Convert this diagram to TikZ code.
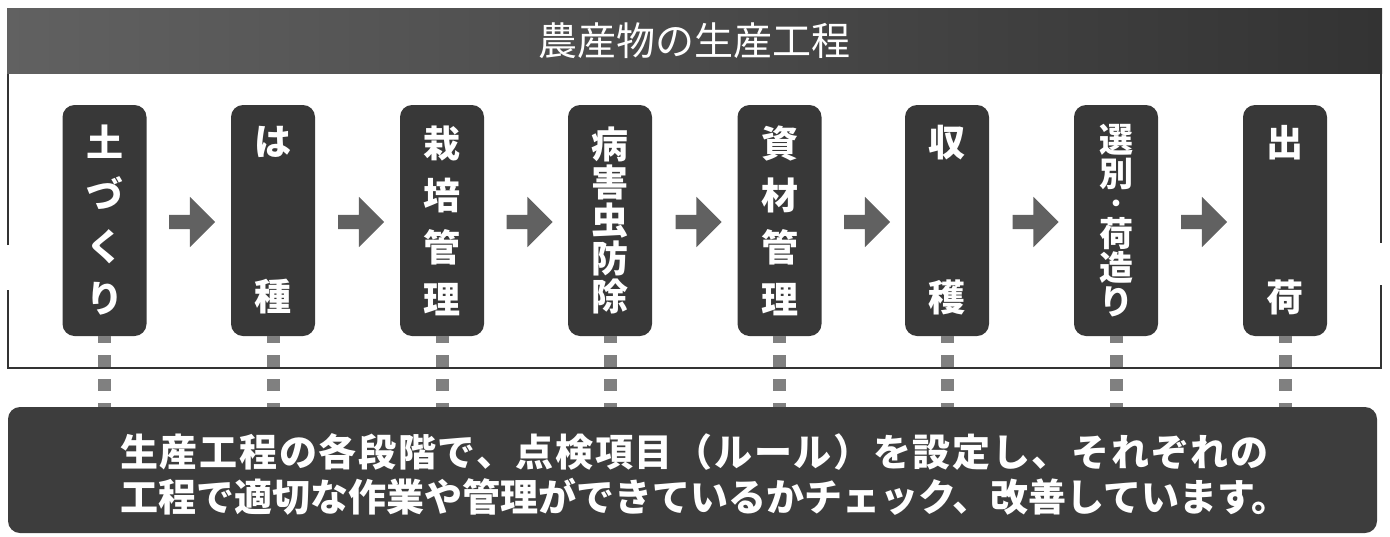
\documentclass[tikz,border=0pt]{standalone}
\usepackage{fontspec}
\newfontfamily\jpfont{Noto Sans CJK JP}
\usetikzlibrary{shapes.arrows}

\tikzset{
  banner/.style={left color=black!62, middle color=black!90, right color=black!80, minimum width=1375pt, minimum height=65pt, inner sep=0pt, text=white, font=\jpfont\fontsize{39}{40}\selectfont},
  stepbox/.style={fill=black!78, rounded corners=12pt, minimum width=84pt, minimum height=231pt, inner sep=0pt, text=white, align=center, font=\jpfont\bfseries\fontsize{37}{52}\selectfont},
  flowarrow/.style={single arrow, fill=black!62, inner sep=7pt, minimum height=46pt, single arrow head extend=18pt, single arrow head indent=0pt},
  tickline/.style={draw=black!50, line width=13pt, dash pattern=on 12pt off 12pt, dash phase=5pt},
  notebox/.style={fill=black!76, rounded corners=12pt, minimum width=1369pt, minimum height=126pt, inner sep=0pt},
  notetext/.style={text=white, align=left, inner sep=0pt, font=\jpfont\bfseries\fontsize{38}{45}\selectfont},
}

\begin{document}
\begin{tikzpicture}[x=1pt, y=-1pt]
            \useasboundingbox (0, 0) rectangle (1390, 536);

            \coordinate (TL) at (8, 73);
            \coordinate (TR) at (1381, 73);
            \coordinate (BL) at (8, 368);
            \coordinate (BR) at (1381, 368);

            % frame round the steps
            \draw[line width=1.2pt, black!80] (8, 245) -- (TL) -- (TR) -- (1381, 243);
            \draw[line width=1.2pt, black!80] (8, 290) -- (BL) -- (BR) -- (1381, 285);

            \node[banner] (title) at (694.5, 40.5) {農産物の生産工程};

            \node[stepbox] (s1) at (104.5, 220.5) {土\\づ\\く\\り};
            \node[stepbox] (s2) at (273, 220.5) {は\\[103pt]種};
            \node[stepbox] (s3) at (442, 220.5) {栽\\培\\管\\理};
            \node[stepbox, font=\jpfont\bfseries\fontsize{37}{38}\selectfont] (s4) at (610, 220.5) {病\\害\\虫\\防\\除};
            \node[stepbox] (s5) at (779.5, 220.5) {資\\材\\管\\理};
            \node[stepbox] (s6) at (947, 220.5) {収\\[103pt]穫};
            \node[stepbox, font=\jpfont\bfseries\fontsize{34}{34}\selectfont] (s7) at (1116, 220.5) {選\\別\\[-8pt]{\fontsize{24}{34}\selectfont ・}\\荷\\造\\り};
            \node[stepbox] (s8) at (1285, 220.5) {出\\[103pt]荷};

            \node[flowarrow] (a1) at (188.5, 222) {};
            \node[flowarrow] (a2) at (357.5, 222) {};
            \node[flowarrow] (a3) at (526, 222) {};
            \node[flowarrow] (a4) at (695, 222) {};
            \node[flowarrow] (a5) at (863.5, 222) {};
            \node[flowarrow] (a6) at (1032, 222) {};
            \node[flowarrow] (a7) at (1200.5, 222) {};

            \node[notebox] (note) at (692.5, 470) {};

            % check lines down to the note
            \draw[tickline] (s1.south) -- (s1.south |- note.north);
            \draw[tickline] (s2.south) -- (s2.south |- note.north);
            \draw[tickline] (s3.south) -- (s3.south |- note.north);
            \draw[tickline] (s4.south) -- (s4.south |- note.north);
            \draw[tickline] (s5.south) -- (s5.south |- note.north);
            \draw[tickline] (s6.south) -- (s6.south |- note.north);
            \draw[tickline] (s7.south) -- (s7.south |- note.north);
            \draw[tickline] (s8.south) -- (s8.south |- note.north);

            \node[notetext, anchor=west] (notelines) at (120, 474) {{\addfontfeature{LetterSpace=4.5}生産工程の各段階で、点検項目（ルール）を設定し、それぞれの}\\工程で適切な作業や管理ができているかチェック、改善しています。};
        \end{tikzpicture}
\end{document}
